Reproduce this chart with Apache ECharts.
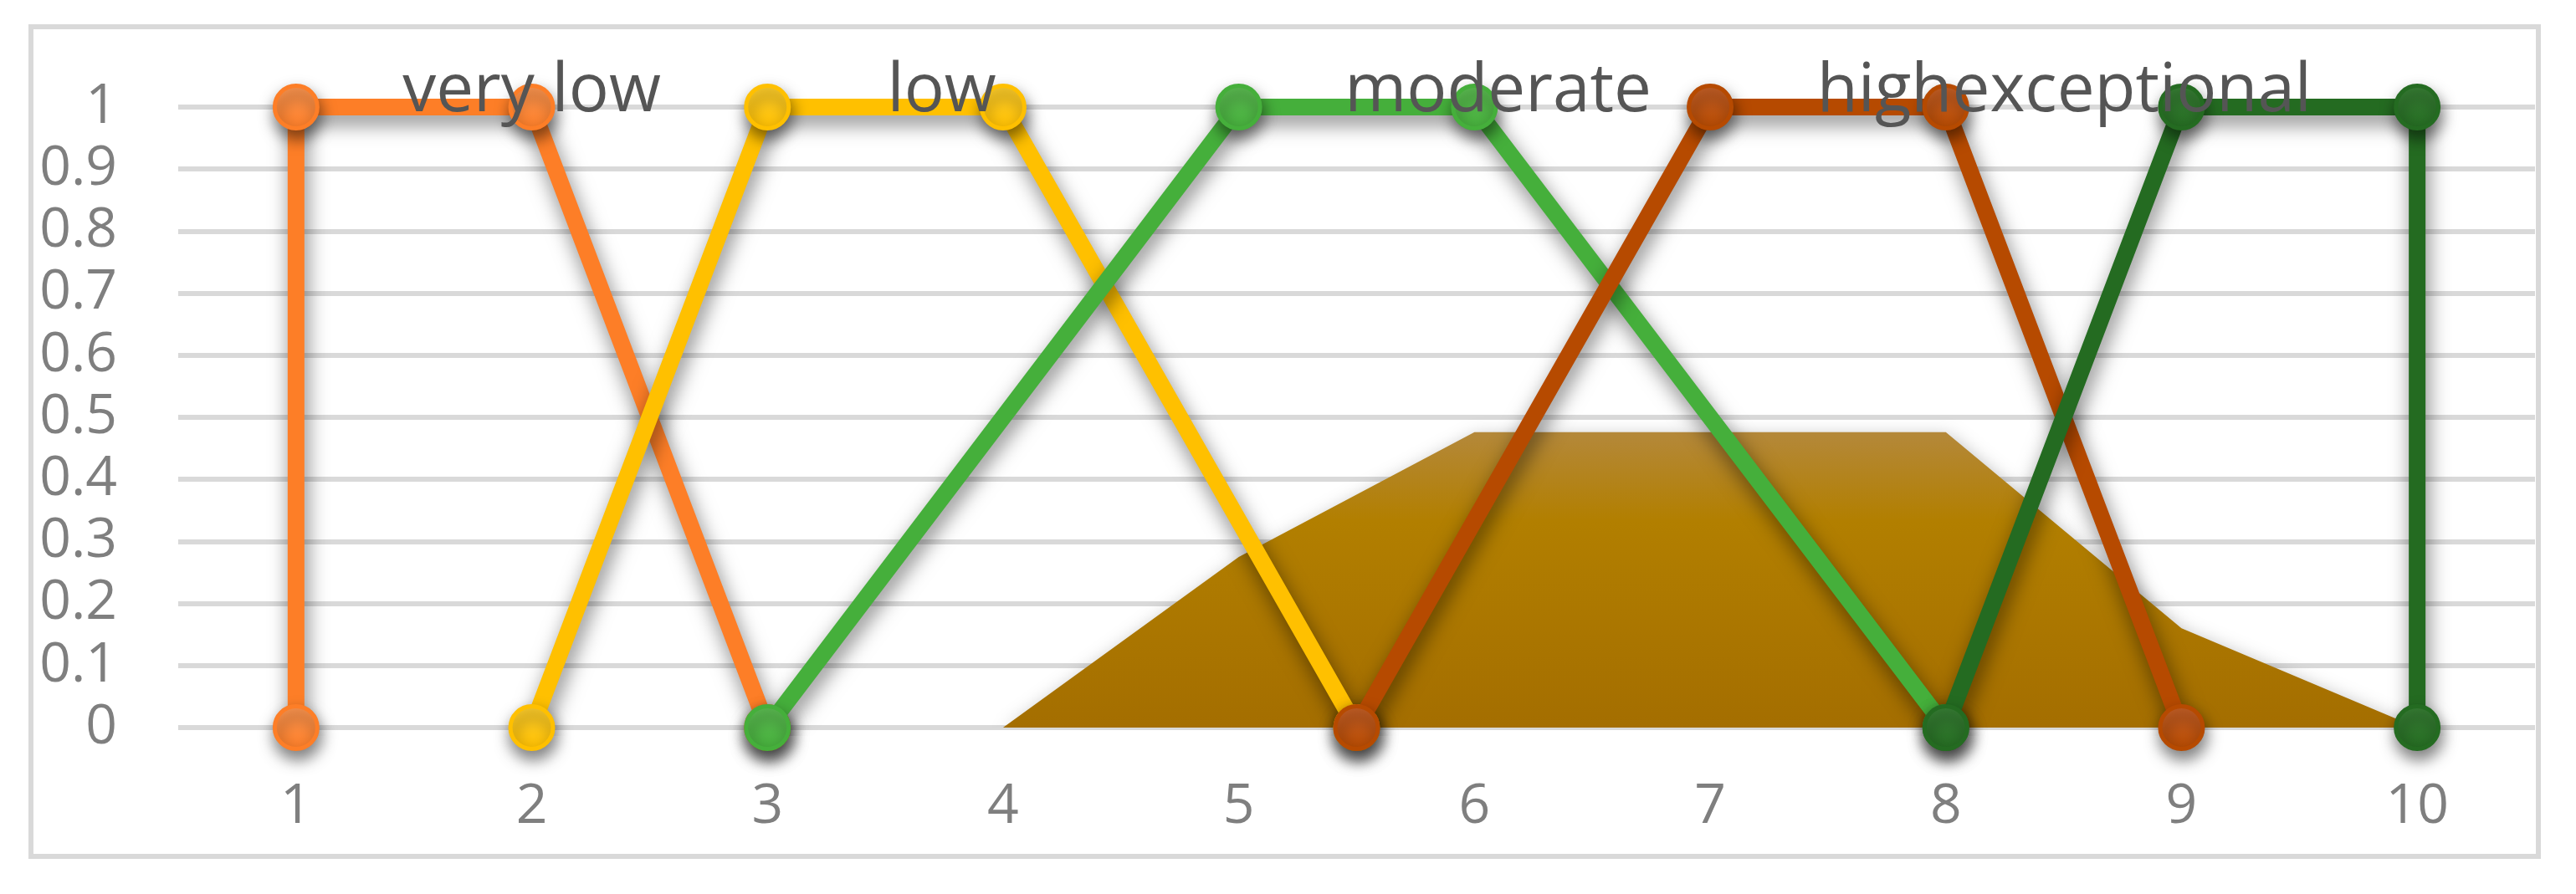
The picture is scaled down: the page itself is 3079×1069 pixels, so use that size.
<!DOCTYPE html>
<html>
<head>
<meta charset="utf-8">
<script src="https://cdn.jsdelivr.net/npm/echarts@6/dist/echarts.min.js"></script>
<style>
  html, body { margin: 0; padding: 0; background: #ffffff; }
  #chart { width: 3079px; height: 1069px; }
</style>
</head>
<body>
<div id="chart"></div>
<script>
// ---- data ----
const xTickLabels = [1, 2, 3, 4, 5, 6, 7, 8, 9, 10];
const seriesNames = ['very low', 'low', 'moderate', 'high', 'exceptional'];
const veryLowX = [1, 1, 2, 3];
const veryLowY = [0, 1, 1, 0];
const lowX = [2, 3, 4, 5.5];
const lowY = [0, 1, 1, 0];
const moderateX = [3, 5, 6, 8];
const moderateY = [0, 1, 1, 0];
const highX = [5.5, 7, 8, 9];
const highY = [0, 1, 1, 0];
const exceptionalX = [8, 9, 10, 10];
const exceptionalY = [0, 1, 1, 0];
const fillX = [4, 5, 6, 7, 8, 9, 10];
const fillY = [0, 0.275, 0.476, 0.476, 0.476, 0.16, 0];
const nameLabelX = [2.0, 3.74, 6.1, 7.74, 8.79];
const nameLabelY = [1, 1, 1, 1, 1];

const colors = ['#FD7E27', '#FFC000', '#45AF3B', '#B64A00', '#246B21'];
const lighter = ['#FF9A55', '#FFD030', '#5FC055', '#C8622A', '#3A8237'];

function zip(xs, ys) { return xs.map((x, i) => [x, ys[i]]); }

const lineData = [
  zip(veryLowX, veryLowY),
  zip(lowX, lowY),
  zip(moderateX, moderateY),
  zip(highX, highY),
  zip(exceptionalX, exceptionalY)
];

const FONT = "'Open Sans', 'Noto Sans', sans-serif";

const series = [];
series.push({
  type: 'line',
  name: 'area',
  data: zip(fillX, fillY),
  symbol: 'none',
  z: 1,
  silent: true,
  lineStyle: { width: 0 },
  areaStyle: {
    opacity: 1,
    color: new echarts.graphic.LinearGradient(0, 0, 0, 1, [
      { offset: 0, color: '#B4883A' },
      { offset: 0.3, color: '#B27F00' },
      { offset: 1, color: '#A46E00' }
    ]),
    shadowBlur: 22,
    shadowColor: 'rgba(0,0,0,0.3)',
    shadowOffsetX: 3,
    shadowOffsetY: 6
  }
});

lineData.forEach((d, i) => {
  series.push({
    type: 'line',
    name: seriesNames[i],
    data: d,
    z: 2 + i,
    silent: true,
    symbol: 'circle',
    symbolSize: 51,
    showAllSymbol: true,
    lineStyle: {
      color: colors[i],
      width: 20,
      shadowBlur: 24,
      shadowColor: 'rgba(0,0,0,0.5)',
      shadowOffsetX: 3,
      shadowOffsetY: 10,
      join: 'round'
    },
    itemStyle: {
      color: new echarts.graphic.LinearGradient(0, 0, 0, 1, [
        { offset: 0, color: lighter[i] },
        { offset: 1, color: colors[i] }
      ]),
      borderColor: colors[i],
      borderWidth: 5,
      opacity: 1,
      shadowBlur: 18,
      shadowColor: 'rgba(0,0,0,0.5)',
      shadowOffsetX: 2,
      shadowOffsetY: 10
    },
    emphasis: { disabled: true }
  });
});

series.push({
  type: 'scatter',
  name: 'labels',
  data: zip(nameLabelX, nameLabelY),
  symbol: 'circle',
  symbolSize: 2,
  z: 20,
  silent: true,
  itemStyle: { color: 'rgba(0,0,0,0)' },
  label: {
    show: true,
    position: 'inside',
    verticalAlign: 'bottom',
    align: 'center',
    offset: [0, 22],
    color: '#555555',
    opacity: 1,
    fontFamily: FONT,
    fontSize: 80,
    formatter: p => seriesNames[p.dataIndex]
  },
  emphasis: { disabled: true }
});

const chart = echarts.init(document.getElementById('chart'), null, { renderer: 'canvas' });
chart.setOption({
  animation: false,
  backgroundColor: '#ffffff',
  grid: { left: 213, right: 49, top: 128, bottom: 199, containLabel: false },
  xAxis: {
    type: 'value',
    min: 0.5,
    max: 10.5,
    splitNumber: 10,
    axisLine: { show: false },
    axisTick: { show: false },
    splitLine: { show: false },
    axisLabel: {
      margin: 62,
      fontSize: 66,
      fontFamily: FONT,
      color: '#7F7F7F',
      formatter: v => (xTickLabels.indexOf(v) >= 0 ? String(v) : '')
    }
  },
  yAxis: {
    type: 'value',
    min: 0,
    max: 1,
    interval: 0.1,
    axisLine: { show: false },
    axisTick: { show: false },
    splitLine: { show: true, lineStyle: { color: '#D9D9D9', width: 6 } },
    axisLabel: {
      margin: 73,
      fontSize: 66,
      fontFamily: FONT,
      color: '#7F7F7F'
    }
  },
  graphic: [{
    type: 'rect',
    shape: { x: 37, y: 32, width: 2997, height: 992 },
    style: { fill: 'none', stroke: '#D9D9D9', lineWidth: 6 },
    z: 0,
    silent: true
  }],
  series: series
});
</script>
</body>
</html>
